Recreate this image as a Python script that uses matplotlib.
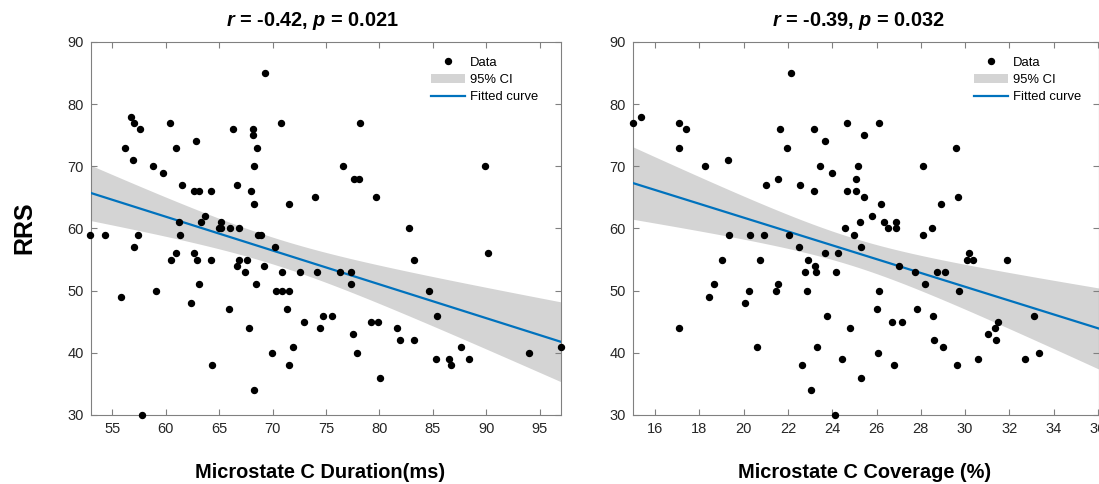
import numpy as np
import matplotlib
matplotlib.use("Agg")
import matplotlib.pyplot as plt
from matplotlib.patches import Patch
from matplotlib.lines import Line2D

plt.rcParams['font.family'] = ['Liberation Sans', 'DejaVu Sans']
plt.rcParams['mathtext.fontset'] = 'custom'
plt.rcParams['mathtext.it'] = 'Liberation Sans:italic:bold'
plt.rcParams['mathtext.rm'] = 'Liberation Sans:bold'

# ---------------- data ----------------
duration = [52.9, 54.3, 55.8, 56.2, 56.75, 56.9, 57.06, 57.07, 57.44, 57.56, 57.76, 58.85, 59.07, 59.75,
            60.4, 60.51, 60.97, 60.98, 61.3, 61.25, 61.5, 62.4, 62.6, 62.6, 62.8, 62.9, 63.1, 63.1, 63.3,
            63.7, 64.2, 64.24, 64.3, 65.0, 65.2, 65.2, 65.9, 66.0, 66.25, 66.65, 66.7, 66.9, 66.9, 67.4,
            67.6, 67.8, 68.0, 68.2, 68.2, 68.25, 68.3, 68.3, 68.4, 68.5, 68.6, 68.9, 69.2, 69.25, 69.9,
            70.2, 70.3, 70.8, 70.85, 70.9, 71.35, 71.5, 71.55, 71.55, 71.9, 72.6, 72.9, 74.0, 74.2, 74.45,
            74.7, 75.6, 76.3, 76.55, 77.3, 77.3, 77.5, 77.65, 77.9, 78.05, 78.2, 79.2, 79.65, 79.9, 80.1,
            81.65, 81.9, 82.75, 83.2, 83.2, 84.6, 85.3, 85.4, 86.5, 86.7, 87.6, 88.35, 89.9, 90.2, 94.05, 97.0]
rrs_duration = [59, 59, 49, 73, 78, 71, 77, 57, 59, 76, 30, 70, 50, 69,
                77, 55, 73, 56, 59, 61, 67, 48, 56, 66, 74, 55, 51, 66, 61,
                62, 66, 55, 38, 60, 60, 61, 47, 60, 76, 54, 67, 55, 60, 53,
                55, 44, 66, 76, 75, 70, 64, 34, 51, 73, 59, 59, 54, 85, 40,
                57, 50, 77, 53, 50, 47, 64, 50, 38, 41, 53, 45, 65, 53, 44,
                46, 46, 53, 70, 53, 51, 43, 68, 40, 68, 77, 45, 65, 45, 36,
                44, 42, 60, 55, 42, 50, 39, 46, 39, 38, 41, 39, 70, 56, 40, 41]

coverage = [15.0, 15.38, 17.08, 17.08, 17.38, 18.27, 19.29, 21.03, 21.56, 21.64, 21.97, 22.14, 22.56,
            23.18, 23.17, 23.45, 23.67, 24.0, 24.67, 24.67, 24.58, 26.09, 25.45, 29.6, 25.17, 28.1,
            25.08, 25.08, 25.45, 26.18, 29.7, 28.9, 25.8, 25.24, 26.36, 26.9, 26.5, 26.9, 28.5,
            17.06, 18.42, 18.67, 19.03, 19.32, 20.06, 20.23, 20.29, 20.6, 20.73, 20.9, 21.45, 21.56,
            22.05, 22.5, 22.65, 22.77, 22.88, 22.9, 23.03, 23.2, 23.26, 23.29, 23.68, 23.76, 24.17,
            24.24, 24.44, 24.14, 24.8, 24.97, 25.3, 28.1, 27.03, 27.73, 28.2, 28.73, 29.1, 29.74,
            30.08, 30.38, 30.17, 31.88, 26.12, 26.03, 27.82, 26.68, 27.17, 28.56, 28.6, 29.0, 26.06,
            26.8, 25.29, 29.64, 30.58, 31.03, 31.36, 31.49, 31.38, 32.7, 33.12, 33.32]
rrs_coverage = [77, 78, 77, 73, 76, 70, 71, 67, 68, 76, 73, 85, 67,
                76, 66, 70, 74, 69, 77, 66, 60, 77, 75, 73, 70, 70,
                68, 66, 65, 64, 65, 64, 62, 61, 61, 61, 60, 60, 60,
                44, 49, 51, 55, 59, 48, 50, 59, 41, 55, 59, 50, 51,
                59, 57, 38, 53, 50, 55, 34, 54, 53, 41, 56, 46, 53,
                56, 39, 30, 44, 59, 57, 59, 54, 53, 51, 53, 53, 50,
                55, 55, 56, 55, 50, 47, 47, 45, 45, 46, 42, 41, 40,
                38, 36, 38, 39, 43, 44, 45, 42, 39, 46, 40]

titles = [("-0.42", "0.021"), ("-0.39", "0.032")]
xlabels = ["Microstate C Duration(ms)", "Microstate C Coverage (%)"]
xlims = [(53, 97), (15, 36.05)]
xticks = [[55, 60, 65, 70, 75, 80, 85, 90, 95], [16, 18, 20, 22, 24, 26, 28, 30, 32, 34, 36]]
yticks = [30, 40, 50, 60, 70, 80, 90]

# ---------------- figure ----------------
W, H = 1099, 484
fig = plt.figure(figsize=(W / 100, H / 100), dpi=100)

def fpos(x0, x1, y0, y1):
    return [x0 / W, 1 - y1 / H, (x1 - x0) / W, (y1 - y0) / H]

ax_pos = [fpos(91, 561, 42, 415), fpos(633, 1099, 42, 415)]
title_x = [312, 858]
xlabel_x = [320, 865]
leg_x = [(431 - 91) / 470, (974 - 633) / 466]

blue = '#0072BD'
ci_col = '#d4d4d4'
spine_col = '#808080'
text_col = '#262626'

for i, (xs, ys) in enumerate([(duration, rrs_duration), (coverage, rrs_coverage)]):
    x = np.asarray(xs, float)
    y = np.asarray(ys, float)
    ax = fig.add_axes(ax_pos[i])
    n = len(x)
    b, a = np.polyfit(x, y, 1)
    resid = y - (a + b * x)
    s = np.sqrt(np.sum(resid ** 2) / (n - 2))
    xm = x.mean()
    sxx = np.sum((x - xm) ** 2)
    xx = np.linspace(xlims[i][0], xlims[i][1], 200)
    yy = a + b * xx
    t = 1.983
    hw = t * s * np.sqrt(1 / n + (xx - xm) ** 2 / sxx)
    ax.fill_between(xx, yy - hw, yy + hw, color=ci_col, lw=0, zorder=1)
    ax.plot(xx, yy, color=blue, lw=1.6, zorder=3)
    ax.plot(x, y, 'o', color='black', ms=4.3, zorder=4, clip_on=False)

    ax.set_xlim(*xlims[i])
    ax.set_ylim(30, 90)
    ax.set_xticks(xticks[i])
    ax.set_yticks(yticks)
    for sp in ax.spines.values():
        sp.set_color(spine_col)
        sp.set_linewidth(0.8)
    ax.tick_params(direction='in', length=4, width=0.8, color=spine_col,
                   labelcolor=text_col, labelsize=10.5, top=True, right=True, pad=5)

    fig.text(title_x[i] / W, 1 - 21 / H,
             r'$r$ = %s, $p$ = %s' % titles[i], ha='center', va='center',
             fontsize=14.3, fontweight='bold', color='black')
    fig.text(xlabel_x[i] / W, 1 - 472 / H, xlabels[i], ha='center', va='center',
             fontsize=14.4, fontweight='bold', color='black')

    handles = [Line2D([], [], marker='o', ls='none', color='black', ms=4.3),
               Patch(facecolor=ci_col, edgecolor='none'),
               Line2D([], [], color=blue, lw=1.6)]
    ax.legend(handles, ['Data', '95% CI', 'Fitted curve'], loc='upper left',
              bbox_to_anchor=(leg_x[i], 0.96), frameon=False, fontsize=9.4,
              handlelength=2.6, handletextpad=0.4, labelspacing=0.38,
              borderaxespad=0, borderpad=0)

fig.text(24 / W, 1 - 228 / H, 'RRS', rotation=90, ha='center', va='center',
         fontsize=18, fontweight='bold', color='black')

fig.savefig('out.png', dpi=100)
